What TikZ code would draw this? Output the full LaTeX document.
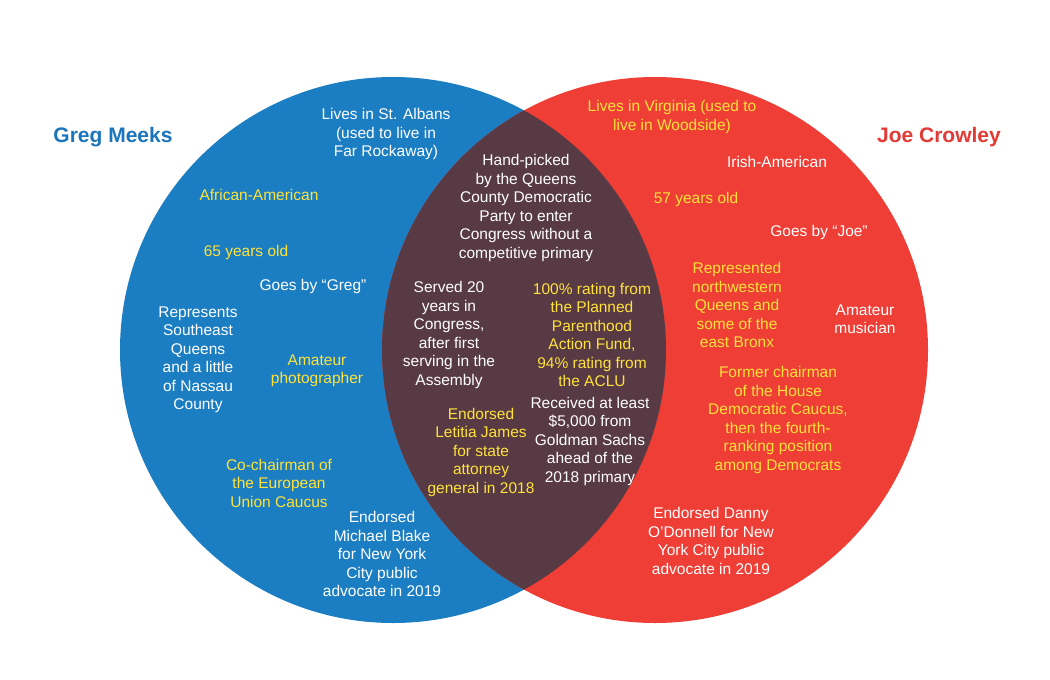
\documentclass[tikz,border=0pt]{standalone}
\usepackage{fontspec}
\setmainfont{Liberation Sans}
\definecolor{gmblue}{HTML}{1B7EC3}
\definecolor{jcred}{HTML}{EE3E36}
\definecolor{lens}{HTML}{573A43}
\definecolor{hlyellow}{HTML}{FFE23A}
\definecolor{gmtitle}{HTML}{1B75BC}
\definecolor{jctitle}{HTML}{E23A35}
\newcommand\factfont{\fontsize{15.5}{18.5}\selectfont}
\tikzset{
  fact/.style={align=center, font=\factfont, text=white, inner sep=0pt},
  hl/.style={fact, text=hlyellow},
  who/.style={font=\fontsize{21}{24}\selectfont\bfseries, inner sep=0pt}
}
\begin{document}
\begin{tikzpicture}[x=1pt,y=-1pt]
\useasboundingbox (0,0) rectangle (1050,680);
\fill[white] (0,0) rectangle (1050,680);
\coordinate (lc) at (393,350); \coordinate (rc) at (655,350);
\fill[gmblue] (lc) circle (273pt);
\fill[jcred] (rc) circle (273pt);
\begin{scope}
\clip (lc) circle (273pt);
\fill[lens] (rc) circle (273pt);
\end{scope}

% names
\node[who, text=gmtitle] (greg) at (113,137) {Greg Meeks};
\node[who, text=jctitle] (joe) at (939,137) {Joe Crowley};

% Meeks only
\node[fact] (albans) at (386,134) {Lives in St. Albans\\(used to live in\\Far Rockaway)};
\node[hl] (gmrace) at (259,195) {African-American};
\node[hl] (gmage) at (246,252) {65 years old};
\node[fact] (gmname) at (313,286) {Goes by “Greg”};
\node[fact] (gmdist) at (198,360) {Represents\\Southeast\\Queens\\and a little\\of Nassau\\County};
\node[hl] (gmhobby) at (317,371) {Amateur\\photographer};
\node[hl] (gmcaucus) at (279,483) {Co-chairman of\\the European\\Union Caucus};
\node[fact] (blake) at (382,554) {Endorsed\\Michael Blake\\for New York\\City public\\advocate in 2019};

% both
\node[fact] (picked) at (526,208) {Hand-picked\\by the Queens\\County Democratic\\Party to enter\\Congress without a\\competitive primary};
\node[fact] (served) at (449,335) {Served 20\\years in\\Congress,\\after first\\serving in the\\Assembly};
\node[hl] (rating) at (592,335) {100\% rating from\\the Planned\\Parenthood\\Action Fund,\\94\% rating from\\the ACLU};
\node[hl] (james) at (481,452) {Endorsed\\Letitia James\\for state\\attorney\\general in 2018};
\node[fact] (sachs) at (590,441) {Received at least\\\$5,000 from\\Goldman Sachs\\ahead of the\\2018 primary};

% Crowley only
\node[hl] (virginia) at (672,117) {Lives in Virginia (used to\\live in Woodside)};
\node[fact] (jcrace) at (777,162) {Irish-American};
\node[hl] (jcage) at (696,199) {57 years old};
\node[fact] (jcname) at (819,232) {Goes by “Joe”};
\node[hl] (jcdist) at (737,305) {Represented\\northwestern\\Queens and\\some of the\\east Bronx};
\node[fact] (jchobby) at (865,319) {Amateur\\musician};
\node[hl] (jccaucus) at (778,420) {Former chairman\\of the House\\Democratic Caucus,\\then the fourth-\\ranking position\\among Democrats};
\node[fact] (odonnell) at (711,541) {Endorsed Danny\\O’Donnell for New\\York City public\\advocate in 2019};
\end{tikzpicture}
\end{document}
